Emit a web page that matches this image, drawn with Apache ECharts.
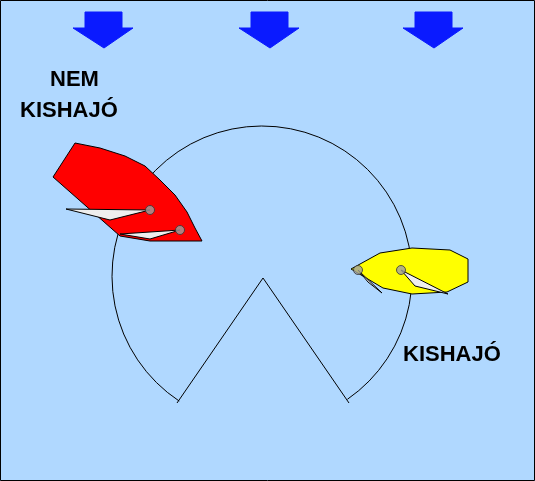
<!DOCTYPE html>
<html>
<head>
<meta charset="utf-8">
<script src="https://cdn.jsdelivr.net/npm/echarts@6/dist/echarts.min.js"></script>
<style>
html, body { margin: 0; padding: 0; }
#main { width: 535px; height: 481px; }
</style>
</head>
<body>
<div id="main"></div>
<script>
// all coordinates are in picture units (x right, y down)
var arrows = [104, 270, 434];
var arrowShape = [[-19, 12], [18, 12], [18, 28], [29, 28], [0, 48], [-31, 28], [-19, 28]];

var redHull = [[75,143],[100,148],[125,156],[145,166],[160,180],[175,195],[187,212],[195,228],[202,241],[150,241],[120,236],[53,177]];
var redSails = [[[66,209],[150,210],[110,220]], [[120,234],[180,230],[150,239]]];
var redMasts = [[150,210],[180,230]];

var yellowHull = [[351,269],[380,253],[412,248],[450,250],[468,259],[468,282],[447,292],[412,294],[383,288]];
var yellowSails = [[[358,270],[382,293],[368,282]], [[401,270],[448,294],[415,286]]];
var yellowMasts = [[358,270],[401,270]];

var circle = {cx: 262, cy: 276, r: 150, start: 123.5, end: 55.3};
var vLine = [[177,403],[263,278],[349,403]];

var labels = [
    {text: 'NEM', x: 50, y: 80},
    {text: 'KISHAJÓ', x: 20, y: 111},
    {text: 'KISHAJÓ', x: 403, y: 355}
];

function polySeries(polys, fill, stroke) {
    return {
        type: 'custom',
        coordinateSystem: 'cartesian2d',
        data: polys.map(function (p, i) { return [i]; }),
        renderItem: function (params, api) {
            var pts = polys[api.value(0)].map(function (q) { return api.coord(q); });
            return {type: 'polygon', shape: {points: pts}, style: {fill: fill, stroke: stroke, lineWidth: 1}};
        },
        silent: true
    };
}

function dotSeries(pts) {
    return {
        type: 'scatter', data: pts, symbolSize: 9, silent: true,
        itemStyle: {color: '#a0a0a0', borderColor: '#333', borderWidth: 1}
    };
}

var arrowPolys = arrows.map(function (ax) {
    return arrowShape.map(function (p) { return [ax + p[0], p[1]]; });
});

var chart = echarts.init(document.getElementById('main'));
chart.setOption({
    backgroundColor: '#b0d8ff',
    animation: false,
    grid: {left: 0, right: 0, top: 0, bottom: 0},
    xAxis: {type: 'value', min: 0, max: 535, show: false},
    yAxis: {type: 'value', min: 0, max: 481, inverse: true, show: false},
    graphic: [
        {type: 'rect', shape: {x: 0.5, y: 0.5, width: 534, height: 480}, style: {fill: 'none', stroke: '#000', lineWidth: 1}, z: 100}
    ].concat(labels.map(function (l) {
        return {type: 'text', x: l.x, y: l.y, style: {text: l.text, fill: '#000', font: 'bold 22px "Liberation Sans", Arial, sans-serif', textVerticalAlign: 'middle'}, z: 100};
    })),
    series: [
        polySeries(arrowPolys, '#0a1aff', '#0a1aff'),
        {
            type: 'custom',
            coordinateSystem: 'cartesian2d',
            data: [[circle.cx, circle.cy]],
            renderItem: function (params, api) {
                var c = api.coord([circle.cx, circle.cy]);
                var e = api.coord([circle.cx + circle.r, circle.cy]);
                return {
                    type: 'arc',
                    shape: {cx: c[0], cy: c[1], r: e[0] - c[0], startAngle: circle.start * Math.PI / 180, endAngle: (circle.end + 360) * Math.PI / 180, clockwise: true},
                    style: {fill: 'none', stroke: '#000', lineWidth: 1}
                };
            },
            silent: true
        },
        {type: 'line', data: vLine, symbol: 'none', lineStyle: {color: '#000', width: 1}, silent: true},
        polySeries([redHull], '#ff0000', '#000'),
        polySeries(redSails, '#eeeeee', '#000'),
        dotSeries(redMasts),
        polySeries([yellowHull], '#ffff00', '#000'),
        polySeries(yellowSails, '#eeeeee', '#000'),
        dotSeries(yellowMasts)
    ]
});
</script>
</body>
</html>
